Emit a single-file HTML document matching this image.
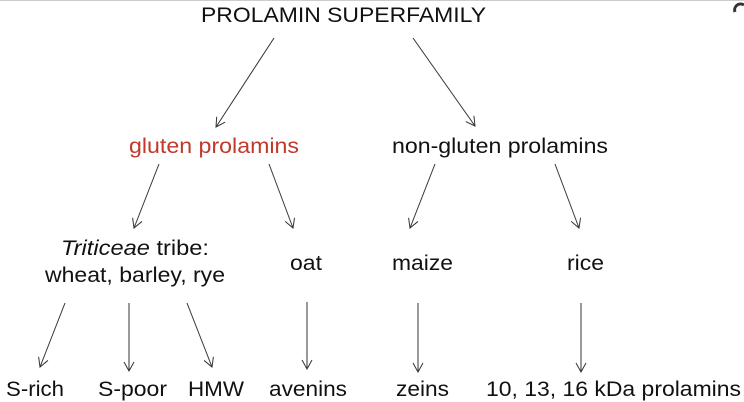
<!DOCTYPE html>
<html><head><meta charset="utf-8"><style>
html,body{margin:0;padding:0;background:#fff;}
svg{display:block;}
text{font-family:"Liberation Sans",sans-serif;font-size:21px;fill:#111;}
</style></head><body>
<svg width="744" height="402" viewBox="0 0 744 402" xmlns="http://www.w3.org/2000/svg">
<defs>
<marker id="a" markerWidth="12" markerHeight="12" refX="10" refY="6" orient="auto" markerUnits="userSpaceOnUse">
<path d="M1,1 L10,6 L1,11" fill="none" stroke="#333" stroke-width="1"/>
</marker>
</defs>
<rect x="0" y="0" width="744" height="1" fill="#ccc"/>
<path d="M735,12 a6,6 0 0 1 9,-7" fill="none" stroke="#333" stroke-width="3"/>
<text x="201" y="22" textLength="285" lengthAdjust="spacingAndGlyphs">PROLAMIN SUPERFAMILY</text>
<g stroke="#333" stroke-width="1" marker-end="url(#a)">
<line x1="274" y1="38" x2="216" y2="127"/>
<line x1="413" y1="38" x2="475" y2="126"/>
<line x1="159" y1="164" x2="134" y2="228"/>
<line x1="269" y1="164" x2="293" y2="228"/>
<line x1="435" y1="164" x2="410" y2="228"/>
<line x1="555" y1="164" x2="579" y2="228"/>
<line x1="65" y1="303" x2="40" y2="367"/>
<line x1="129" y1="303" x2="129" y2="371"/>
<line x1="187" y1="303" x2="212" y2="367"/>
<line x1="307" y1="302" x2="307" y2="369"/>
<line x1="418" y1="303" x2="418" y2="372"/>
<line x1="581" y1="303" x2="581" y2="372"/>
</g>
<text x="129" y="153" textLength="170" lengthAdjust="spacingAndGlyphs" style="fill:#c0392b">gluten prolamins</text>
<text x="392" y="153" textLength="216" lengthAdjust="spacingAndGlyphs">non-gluten prolamins</text>
<text x="61" y="255" textLength="148" lengthAdjust="spacingAndGlyphs"><tspan font-style="italic">Triticeae</tspan>  tribe:</text>
<text x="45" y="282" textLength="180" lengthAdjust="spacingAndGlyphs">wheat, barley, rye</text>
<text x="290" y="270" textLength="32" lengthAdjust="spacingAndGlyphs">oat</text>
<text x="392" y="270" textLength="61" lengthAdjust="spacingAndGlyphs">maize</text>
<text x="567" y="270" textLength="37" lengthAdjust="spacingAndGlyphs">rice</text>
<text x="6" y="396" textLength="58" lengthAdjust="spacingAndGlyphs">S-rich</text>
<text x="98" y="396" textLength="69" lengthAdjust="spacingAndGlyphs">S-poor</text>
<text x="188" y="396" textLength="56" lengthAdjust="spacingAndGlyphs">HMW</text>
<text x="269" y="396" textLength="78" lengthAdjust="spacingAndGlyphs">avenins</text>
<text x="396" y="396" textLength="53" lengthAdjust="spacingAndGlyphs">zeins</text>
<text x="486" y="396" textLength="255" lengthAdjust="spacingAndGlyphs">10, 13, 16 kDa prolamins</text>
</svg>
</body></html>
